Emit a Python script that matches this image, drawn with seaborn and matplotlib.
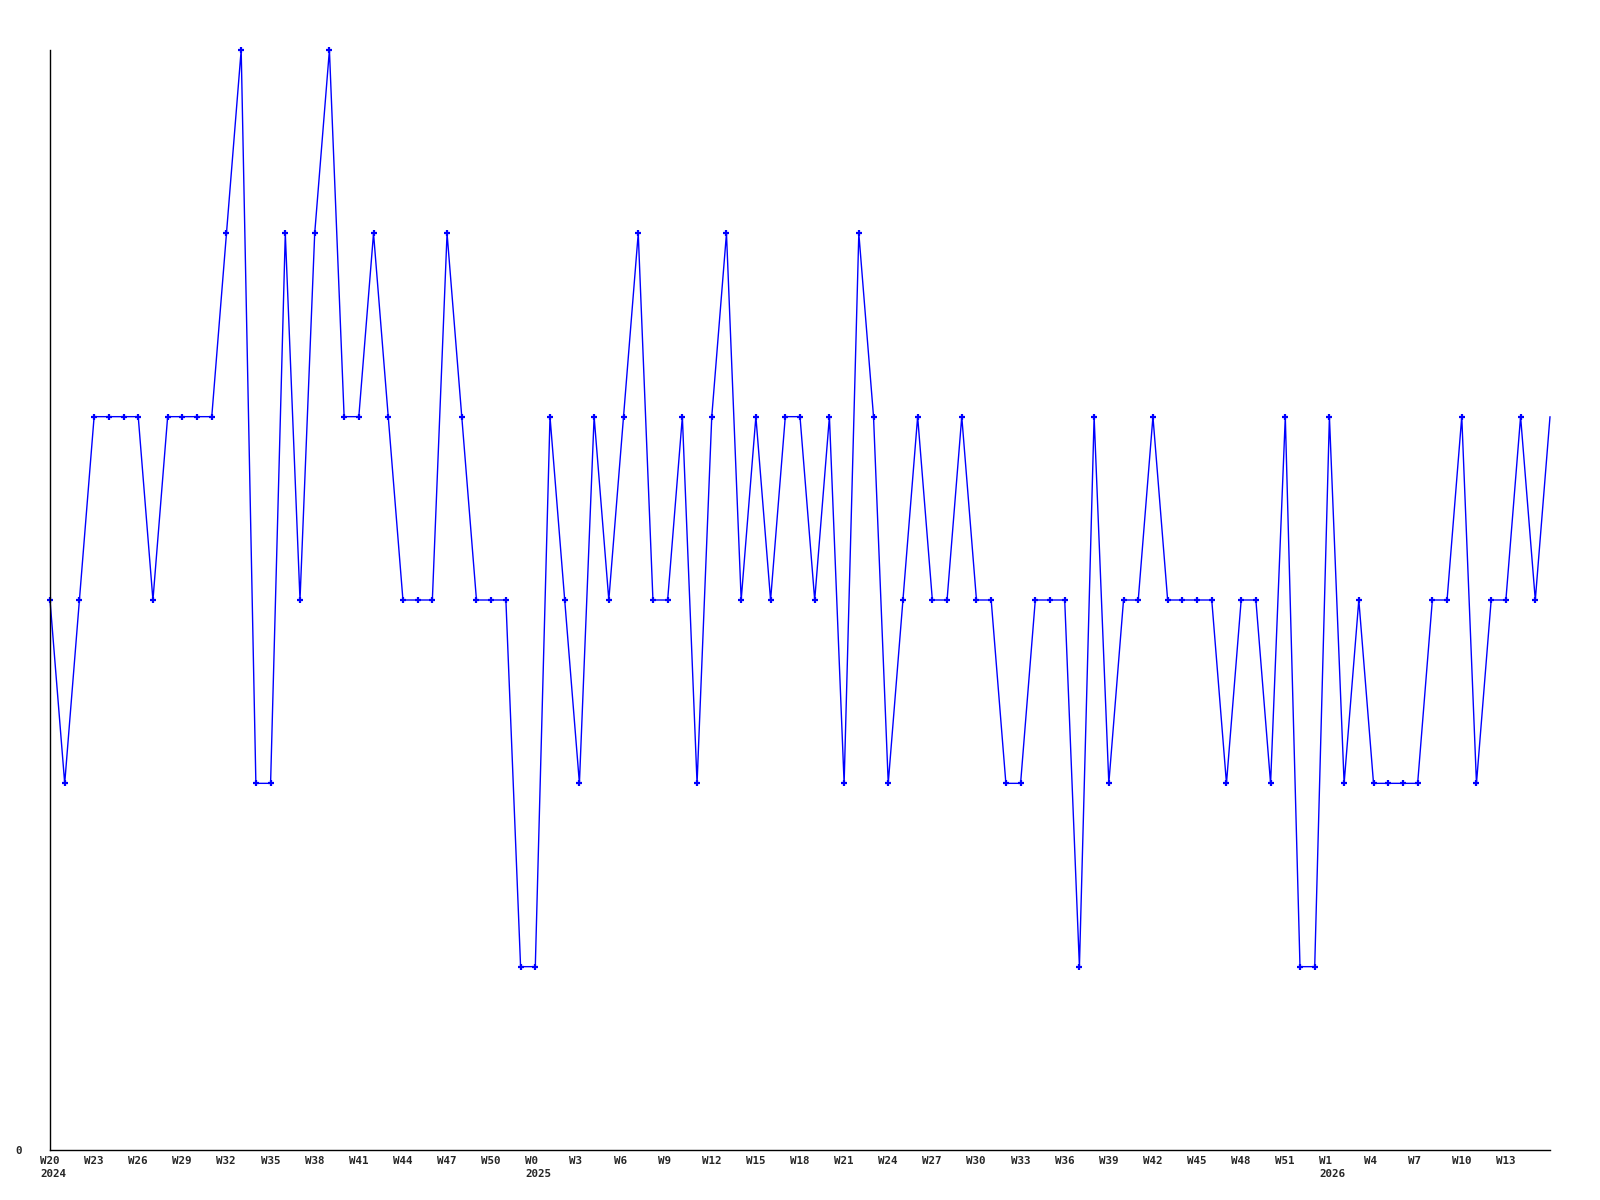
import numpy as np
import pandas as pd
import matplotlib
matplotlib.use("Agg")
import matplotlib.pyplot as plt
import matplotlib.transforms as mtransforms
import seaborn as sns

# weekly counts, W20 2024 .. W16 2026
counts = [3, 2, 3, 4, 4, 4, 4, 3, 4, 4,
          4, 4, 5, 6, 2, 2, 5, 3, 5, 6,
          4, 4, 5, 4, 3, 3, 3, 5, 4, 3,
          3, 3, 1, 1, 4, 3, 2, 4, 3, 4,
          5, 3, 3, 4, 2, 4, 5, 3, 4, 3,
          4, 4, 3, 4, 2, 5, 4, 2, 3, 4,
          3, 3, 4, 3, 3, 2, 2, 3, 3, 3,
          1, 4, 2, 3, 3, 4, 3, 3, 3, 3,
          2, 3, 3, 2, 4, 1, 1, 4, 2, 3,
          2, 2, 2, 2, 3, 3, 4, 2, 3, 3,
          4, 3, 4]

week_labels = ["W20\n2024", "W23", "W26", "W29", "W32", "W35", "W38", "W41",
               "W44", "W47", "W50", "W0\n2025", "W3", "W6", "W9", "W12", "W15",
               "W18", "W21", "W24", "W27", "W30", "W33", "W36", "W39", "W42",
               "W45", "W48", "W51", "W1\n2026", "W4", "W7", "W10", "W13"]
# index of each labelled week in the series
week_pos = [0, 3, 6, 9, 12, 15, 18, 21, 24, 27, 30, 33, 36, 39, 42, 45, 48,
            51, 54, 57, 60, 63, 66, 69, 72, 75, 78, 81, 84, 87, 90, 93, 96, 99]

df = pd.DataFrame({"week": np.arange(len(counts)), "count": counts})

sns.set_style("white")
plt.rcParams['font.family'] = ['DejaVu Sans Mono', 'DejaVu Sans']

fig = plt.figure(figsize=(16, 12), dpi=100)
ax = fig.add_axes([50 / 1600, 50 / 1200, 1500 / 1600, 1100 / 1200])

sns.lineplot(data=df, x="week", y="count", ax=ax, color="#0000ff",
             linewidth=1.0, marker="+", markersize=5, markeredgewidth=1.6,
             markeredgecolor="#0000ff",
             markevery=list(range(len(counts) - 1)), clip_on=False)

ax.set_xlim(0, len(counts) - 1)
ax.set_ylim(0, 6)
ax.set_xlabel("")
ax.set_ylabel("")

# week labels start a little left of their week
ax.set_xticks(week_pos)
ax.set_xticklabels([])
offset = mtransforms.ScaledTranslation(-10 / 100, -6 / 100, fig.dpi_scale_trans)
for pos, lab in zip(week_pos, week_labels):
    ax.text(pos, 0, lab, transform=ax.get_xaxis_transform() + offset,
            ha="left", va="top", fontsize=7.8, fontweight="bold",
            linespacing=1.35)

ax.set_yticks([0])
ax.set_yticklabels(["0"], fontsize=7.8, fontweight="bold")
ax.tick_params(axis="both", length=0, pad=4)
ax.tick_params(axis="y", pad=20)

sns.despine(ax=ax)
for s in ["left", "bottom"]:
    ax.spines[s].set_color("black")
    ax.spines[s].set_linewidth(1.0)

fig.savefig("out.png", dpi=100, facecolor="white")
